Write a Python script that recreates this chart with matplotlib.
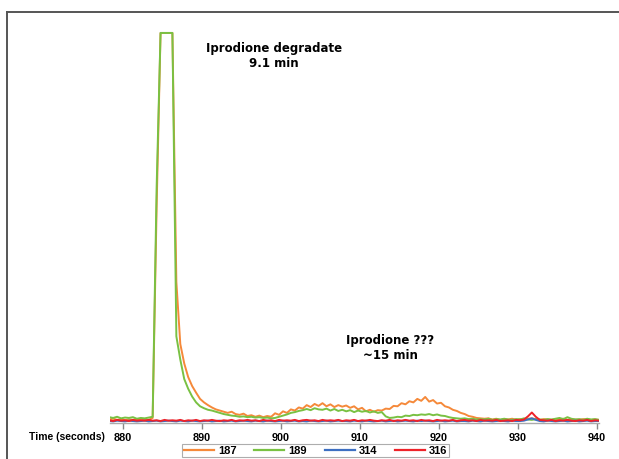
import numpy as np
import matplotlib
matplotlib.use("Agg")
import matplotlib.pyplot as plt
from matplotlib.lines import Line2D

# ---- data ----
time_start, time_stop, time_step = 878.25, 940.25, 0.5
x_ticks = [880, 890, 900, 910, 920, 930, 940]
series_names = ["187", "189", "314", "316"]

ion_187 = [
    0.6, 0.8, 0.5, 0.7, 0.4, 0.6, 0.5, 0.7, 0.4, 0.6,
    0.5, 1.0, 55, 100, 100, 100, 100, 36, 20, 15,
    11.5, 9.2, 7.5, 5.9, 5.0, 4.3, 3.7, 3.2, 2.9, 2.6,
    2.3, 2.6, 2.0, 1.8, 2.1, 1.5, 1.7, 1.3, 1.6, 1.2,
    1.5, 1.3, 2.2, 1.8, 2.7, 2.3, 3.2, 2.9, 3.7, 3.4,
    4.3, 3.8, 4.6, 4.1, 4.8, 4.0, 4.5, 3.8, 4.3, 3.9,
    4.2, 3.6, 4.0, 3.2, 3.6, 2.7, 3.1, 2.6, 3.0, 2.9,
    3.4, 3.3, 4.1, 4.0, 4.8, 4.5, 5.3, 5.0, 5.9, 5.4,
    6.4, 5.2, 5.6, 4.7, 4.9, 4.0, 3.7, 3.1, 2.8, 2.3,
    2.0, 1.5, 1.3, 1.0, 0.9, 0.8, 0.9, 0.6, 0.8, 0.5,
    0.7, 0.6, 0.8, 0.5, 0.7, 0.6, 0.8, 0.9, 0.7, 0.5,
    0.7, 0.6, 0.5, 0.7, 0.6, 0.8, 0.5, 0.7, 0.6, 0.5,
    0.7, 0.6, 0.5, 0.6, 0.5,
]
ion_189 = [
    1.2, 1.0, 1.3, 0.9, 1.1, 1.0, 1.2, 0.8, 1.0, 0.9,
    1.1, 1.3, 60, 100, 100, 100, 100, 22, 16, 11,
    8.5, 6.5, 5.0, 4.0, 3.5, 3.1, 2.9, 2.6, 2.3, 2.0,
    1.8, 1.6, 1.5, 1.3, 1.4, 1.2, 1.3, 1.1, 1.2, 1.0,
    1.1, 0.9, 1.0, 1.3, 1.6, 1.9, 2.3, 2.5, 2.8, 3.0,
    3.3, 3.0, 3.5, 3.2, 3.1, 3.4, 2.9, 3.3, 2.8, 3.1,
    2.7, 3.0, 2.5, 2.9, 2.6, 2.8, 2.4, 2.7, 2.3, 2.5,
    1.4, 1.0, 1.1, 1.3, 1.2, 1.6, 1.5, 1.8, 1.7, 1.9,
    1.8, 2.0, 1.7, 1.9, 1.6, 1.5, 1.2, 1.0, 0.9, 0.8,
    0.9, 0.7, 0.8, 0.6, 0.7, 0.6, 0.8, 0.5, 0.7, 0.6,
    0.8, 0.6, 0.5, 0.7, 0.6, 0.9, 0.6, 0.5, 0.7, 0.6,
    0.5, 0.7, 0.6, 0.8, 1.0, 0.7, 1.2, 0.8, 0.6, 0.7,
    0.5, 0.8, 0.6, 0.7, 0.5,
]
ion_314 = [
    0.2, 0.1, 0.3, 0.2, 0.1, 0.3, 0.2, 0.1, 0.2, 0.3,
    0.1, 0.2, 0.3, 0.1, 0.2, 0.3, 0.2, 0.1, 0.3, 0.2,
    0.1, 0.3, 0.2, 0.1, 0.2, 0.3, 0.1, 0.2, 0.3, 0.1,
    0.2, 0.3, 0.1, 0.2, 0.3, 0.2, 0.1, 0.3, 0.2, 0.1,
    0.3, 0.2, 0.1, 0.2, 0.3, 0.1, 0.2, 0.3, 0.1, 0.2,
    0.1, 0.3, 0.2, 0.1, 0.2, 0.3, 0.1, 0.2, 0.3, 0.2,
    0.2, 0.1, 0.3, 0.2, 0.1, 0.3, 0.2, 0.1, 0.2, 0.3,
    0.1, 0.2, 0.3, 0.1, 0.2, 0.3, 0.2, 0.1, 0.3, 0.2,
    0.3, 0.2, 0.1, 0.2, 0.3, 0.1, 0.2, 0.3, 0.1, 0.2,
    0.2, 0.1, 0.3, 0.2, 0.1, 0.3, 0.2, 0.1, 0.2, 0.3,
    0.2, 0.1, 0.3, 0.2, 0.2, 0.3, 0.6, 0.9, 0.5, 0.2,
    0.1, 0.3, 0.2, 0.1, 0.2, 0.3, 0.1, 0.2, 0.3, 0.1,
    0.2, 0.3, 0.1, 0.2, 0.2,
]
ion_316 = [
    0.4, 0.2, 0.5, 0.3, 0.4, 0.2, 0.5, 0.3, 0.4, 0.3,
    0.5, 0.3, 0.4, 0.2, 0.5, 0.3, 0.4, 0.3, 0.5, 0.2,
    0.4, 0.3, 0.5, 0.2, 0.4, 0.3, 0.5, 0.3, 0.2, 0.4,
    0.3, 0.5, 0.2, 0.4, 0.3, 0.5, 0.3, 0.4, 0.2, 0.5,
    0.3, 0.4, 0.2, 0.5, 0.3, 0.4, 0.3, 0.5, 0.2, 0.4,
    0.5, 0.3, 0.4, 0.2, 0.5, 0.3, 0.4, 0.3, 0.5, 0.2,
    0.4, 0.3, 0.5, 0.2, 0.4, 0.3, 0.5, 0.3, 0.2, 0.4,
    0.3, 0.5, 0.2, 0.4, 0.3, 0.5, 0.3, 0.4, 0.2, 0.5,
    0.3, 0.4, 0.2, 0.5, 0.3, 0.4, 0.3, 0.5, 0.2, 0.4,
    0.5, 0.3, 0.4, 0.2, 0.5, 0.3, 0.4, 0.3, 0.5, 0.2,
    0.3, 0.4, 0.2, 0.5, 0.4, 0.6, 1.4, 2.4, 1.3, 0.5,
    0.4, 0.3, 0.5, 0.2, 0.4, 0.3, 0.5, 0.3, 0.2, 0.4,
    0.3, 0.5, 0.2, 0.4, 0.3,
]

time_s = np.arange(time_start, time_stop + time_step / 2, time_step)
series = [ion_187, ion_189, ion_314, ion_316]
colors = ["#f5893a", "#79c143", "#3d6fc2", "#ee2229"]

W, H = 619, 459
fig = plt.figure(figsize=(W / 100, H / 100), dpi=100)
fig.patch.set_facecolor("white")

ax_l, ax_r, ax_t, ax_b = 109.6, 599, 31, 423
ax = fig.add_axes([ax_l / W, 1 - ax_b / H, (ax_r - ax_l) / W, (ax_b - ax_t) / H])
ax.set_facecolor("none")

for vals, c, name in zip(series, colors, series_names):
    ax.plot(time_s, vals, color=c, lw=1.4, label=name, solid_joinstyle="round")

ax.set_xlim(878.3, 940.25)
ax.set_ylim(-0.3, 100.5)
ax.set_yticks([])
for s in ["top", "right", "left"]:
    ax.spines[s].set_visible(False)
ax.spines["bottom"].set_color("#aaaaaa")
ax.spines["bottom"].set_linewidth(1.0)
ax.set_xticks(x_ticks)
ax.set_xticklabels([str(v) for v in x_ticks], fontfamily="Liberation Sans",
                   fontweight="bold", fontsize=7.8)
ax.tick_params(axis="x", direction="out", length=4.5, width=1, color="#888888", pad=2.5)

fig.text(105 / W, 1 - 437 / H, "Time (seconds)", ha="right", va="center",
         fontfamily="Liberation Sans", fontweight="bold", fontsize=7.5)

fig.text(274 / W, 1 - 56 / H, "Iprodione degradate\n9.1 min", ha="center", va="center",
         fontfamily="DejaVu Sans", fontweight="bold", fontsize=8.5, linespacing=1.2)
fig.text(390 / W, 1 - 348 / H, "Iprodione ???\n~15 min", ha="center", va="center",
         fontfamily="DejaVu Sans", fontweight="bold", fontsize=8.5, linespacing=1.2)

leg = fig.legend(loc="center", bbox_to_anchor=(315.5 / W, 1 - 450.5 / H), ncol=4,
                 frameon=True, fancybox=False, handlelength=2.7, columnspacing=1.6,
                 handletextpad=0.35, borderpad=0.15, borderaxespad=0,
                 prop={"family": "Liberation Sans", "weight": "bold", "size": 8})
leg.get_frame().set_edgecolor("#999999")
leg.get_frame().set_linewidth(0.8)
for h in leg.legend_handles:
    h.set_linewidth(1.6)

# outer frame (top and left edges)
fx, fy = 6.5 / W, 1 - 11.5 / H
fig.add_artist(Line2D([fx, 1.0], [fy, fy], transform=fig.transFigure, color="#555555", lw=1.4))
fig.add_artist(Line2D([fx, fx], [0.0, fy], transform=fig.transFigure, color="#555555", lw=1.4))

fig.savefig("out.png", dpi=100)
